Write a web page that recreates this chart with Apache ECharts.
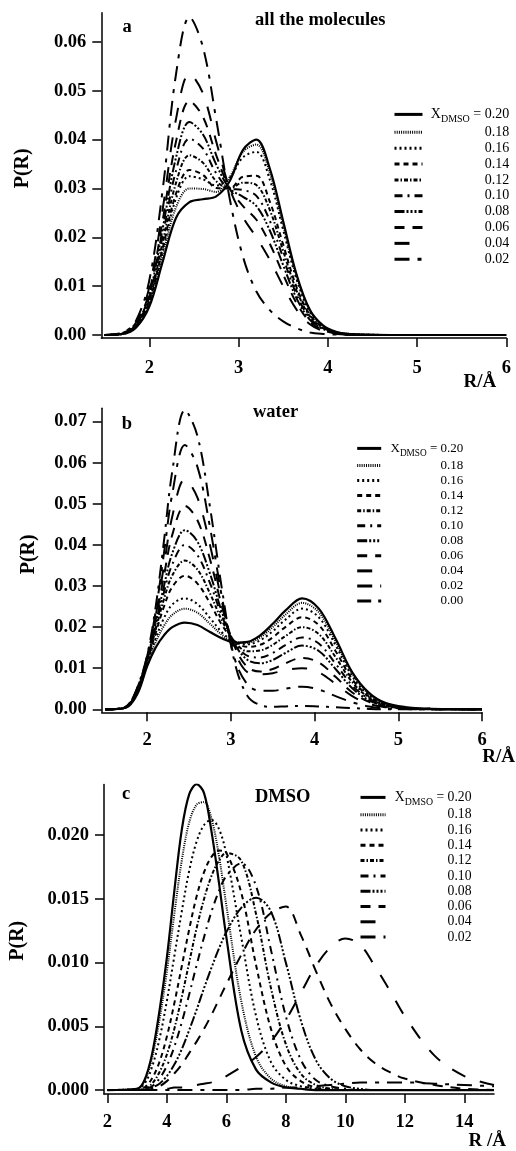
<!DOCTYPE html>
<html><head><meta charset="utf-8">
<script src="https://cdn.jsdelivr.net/npm/echarts@6/dist/echarts.min.js"></script>
<style>html,body{margin:0;padding:0;background:#fff}#c{width:516px;height:1151px}</style>
</head><body><div id="c"></div>
<script>
// ---------- data ----------
const aConc = ['0.20','0.18','0.16','0.14','0.12','0.10','0.08','0.06','0.04','0.02'];
const bConc = ['0.20','0.18','0.16','0.14','0.12','0.10','0.08','0.06','0.04','0.02','0.00'];
const cConc = ['0.20','0.18','0.16','0.14','0.12','0.10','0.08','0.06','0.04','0.02'];

const aXTicks = [2,3,4,5,6];
const aYTicks = [0,0.01,0.02,0.03,0.04,0.05,0.06];
const bXTicks = [2,3,4,5,6];
const bYTicks = [0,0.01,0.02,0.03,0.04,0.05,0.06,0.07];
const cXTicks = [2,4,6,8,10,12,14];
const cYTicks = [0,0.005,0.010,0.015,0.020];

// panel a : all the molecules
const aR = [1.5,1.7,1.85,2.0,2.15,2.3,2.45,2.6,2.75,2.9,3.05,3.2,3.35,3.5,3.65,3.8,3.95,4.1,4.25,4.4,4.7,5.0,6.0];
const a020 = [0,0.0002,0.0015,0.0058,0.0150,0.0240,0.0272,0.0278,0.0284,0.0315,0.0379,0.0400,0.0341,0.0233,0.0124,0.0051,0.0019,0.0006,0.0002,0.0001,0,0,0];
const a018 = [0,0.0002,0.0016,0.0062,0.0162,0.0262,0.0300,0.0299,0.0293,0.0323,0.0375,0.0390,0.0332,0.0225,0.0120,0.0050,0.0018,0.0006,0.0002,0.0001,0,0,0];
const a016 = [0,0.0002,0.0017,0.0066,0.0172,0.0280,0.0325,0.0319,0.0306,0.0322,0.0364,0.0375,0.0318,0.0215,0.0114,0.0047,0.0018,0.0005,0.0002,0.0001,0,0,0];
const a014 = [0,0.0003,0.0018,0.0069,0.0178,0.0290,0.0338,0.0328,0.0301,0.0300,0.0324,0.0326,0.0273,0.0185,0.0098,0.0041,0.0015,0.0005,0.0002,0,0,0,0];
const a012 = [0,0.0003,0.0019,0.0073,0.0190,0.0312,0.0368,0.0353,0.0315,0.0300,0.0312,0.0307,0.0256,0.0172,0.0091,0.0038,0.0014,0.0004,0.0001,0,0,0,0];
const a010 = [0,0.0003,0.0020,0.0078,0.0203,0.0337,0.0402,0.0382,0.0331,0.0300,0.0297,0.0285,0.0234,0.0158,0.0083,0.0034,0.0013,0.0004,0.0001,0,0,0,0];
const a008 = [0,0.0003,0.0021,0.0083,0.0218,0.0364,0.0436,0.0411,0.0349,0.0300,0.0283,0.0264,0.0214,0.0143,0.0075,0.0031,0.0012,0.0003,0.0001,0,0,0,0];
const a006 = [0,0.0004,0.0023,0.0089,0.0235,0.0397,0.0479,0.0447,0.0368,0.0300,0.0264,0.0236,0.0187,0.0124,0.0065,0.0027,0.0010,0.0003,0.0001,0,0,0,0];
const a004 = [0,0.0004,0.0025,0.0098,0.0258,0.0443,0.0535,0.0495,0.0396,0.0300,0.0241,0.0200,0.0154,0.0100,0.0052,0.0022,0.0008,0.0002,0.0001,0,0,0,0];
const a002 = [0,0.0005,0.0029,0.0112,0.0298,0.0535,0.0651,0.0590,0.0441,0.0280,0.0160,0.0089,0.0051,0.0028,0.0014,0.0005,0.0002,0.0001,0,0,0,0,0];

// panel b : water
const bR = [1.5,1.7,1.8,1.9,2.0,2.1,2.2,2.3,2.45,2.6,2.75,2.9,3.05,3.2,3.35,3.5,3.65,3.85,4.05,4.25,4.45,4.65,4.85,5.1,5.4,6.0];
const b020 = [0,0.0002,0.0012,0.0045,0.0105,0.0150,0.0180,0.0200,0.0211,0.0205,0.0188,0.0172,0.0162,0.0164,0.0180,0.0208,0.0240,0.0270,0.0245,0.0172,0.0090,0.0040,0.0015,0.0005,0.0001,0];
const b018 = [0,0.0002,0.0013,0.0048,0.0110,0.0163,0.0203,0.0230,0.0245,0.0235,0.0208,0.0180,0.0163,0.0162,0.0175,0.0200,0.0230,0.0259,0.0236,0.0165,0.0086,0.0037,0.0014,0.0004,0.0001,0];
const b016 = [0,0.0002,0.0014,0.0050,0.0113,0.0172,0.0222,0.0255,0.0270,0.0256,0.0222,0.0186,0.0163,0.0158,0.0168,0.0190,0.0218,0.0245,0.0224,0.0156,0.0080,0.0034,0.0012,0.0003,0.0001,0];
const b014 = [0,0.0002,0.0015,0.0053,0.0118,0.0185,0.0250,0.0298,0.0325,0.0306,0.0258,0.0203,0.0165,0.0152,0.0157,0.0175,0.0200,0.0224,0.0205,0.0142,0.0073,0.0031,0.0011,0.0003,0.0001,0];
const b012 = [0,0.0002,0.0015,0.0054,0.0120,0.0193,0.0268,0.0326,0.0362,0.0340,0.0282,0.0213,0.0163,0.0141,0.0143,0.0157,0.0178,0.0200,0.0183,0.0127,0.0066,0.0028,0.0010,0.0003,0.0001,0];
const b010 = [0,0.0002,0.0016,0.0056,0.0122,0.0200,0.0285,0.0353,0.0400,0.0375,0.0307,0.0223,0.0160,0.0130,0.0126,0.0137,0.0156,0.0175,0.0160,0.0111,0.0058,0.0025,0.0009,0.0003,0.0001,0];
const b008 = [0,0.0002,0.0016,0.0057,0.0124,0.0207,0.0300,0.0380,0.0436,0.0408,0.0330,0.0232,0.0157,0.0120,0.0112,0.0120,0.0137,0.0155,0.0142,0.0098,0.0051,0.0022,0.0008,0.0002,0,0];
const b006 = [0,0.0002,0.0017,0.0059,0.0126,0.0217,0.0325,0.0425,0.0495,0.0460,0.0365,0.0245,0.0150,0.0102,0.0092,0.0098,0.0112,0.0125,0.0114,0.0079,0.0041,0.0018,0.0006,0.0002,0,0];
const b004 = [0,0.0002,0.0017,0.0060,0.0128,0.0226,0.0350,0.0470,0.0560,0.0515,0.0400,0.0255,0.0140,0.0090,0.0085,0.0088,0.0095,0.0100,0.0090,0.0062,0.0032,0.0013,0.0005,0.0001,0,0];
const b002 = [0,0.0002,0.0018,0.0062,0.0130,0.0237,0.0380,0.0525,0.0643,0.0590,0.0443,0.0265,0.0120,0.0060,0.0045,0.0045,0.0050,0.0055,0.0048,0.0032,0.0017,0.0007,0.0002,0.0001,0,0];
const b000 = [0,0.0002,0.0018,0.0063,0.0132,0.0248,0.0410,0.0580,0.0728,0.0665,0.0492,0.0283,0.0110,0.0032,0.0010,0.0006,0.0007,0.0008,0.0007,0.0005,0.0003,0.0001,0,0,0,0];

// panel c : DMSO
const cR = [2,3,3.25,3.5,3.75,4,4.25,4.5,4.75,5,5.25,5.5,5.75,6,6.5,7,7.5,8,8.5,9,9.5,10,10.5,11,11.5,12,13,14,15];
const c020 = [0,0.0001,0.0008,0.0028,0.0062,0.0104,0.0156,0.0204,0.0232,0.0240,0.0233,0.0203,0.0163,0.0120,0.0047,0.0016,0.0006,0.0002,0.0001,0,0,0,0,0,0,0,0,0,0];
const c018 = [0,0.0001,0.0007,0.0025,0.0055,0.0093,0.0138,0.0180,0.0210,0.0224,0.0226,0.0213,0.0184,0.0145,0.0070,0.0026,0.0009,0.0003,0.0001,0,0,0,0,0,0,0,0,0,0];
const c016 = [0,0.0001,0.0005,0.0018,0.0040,0.0070,0.0105,0.0140,0.0172,0.0195,0.0208,0.0212,0.0205,0.0185,0.0120,0.0058,0.0022,0.0008,0.0003,0.0001,0,0,0,0,0,0,0,0,0];
const c014 = [0,0,0.0002,0.0009,0.0022,0.0042,0.0068,0.0097,0.0126,0.0152,0.0171,0.0183,0.0188,0.0186,0.0155,0.0098,0.0048,0.0019,0.0007,0.0002,0.0001,0,0,0,0,0,0,0,0];
const c012 = [0,0,0.0001,0.0005,0.0014,0.0028,0.0048,0.0073,0.0100,0.0127,0.0150,0.0168,0.0180,0.0186,0.0180,0.0138,0.0080,0.0036,0.0013,0.0004,0.0001,0,0,0,0,0,0,0,0];
const c010 = [0,0,0.0001,0.0003,0.0009,0.0019,0.0034,0.0053,0.0075,0.0098,0.0120,0.0140,0.0156,0.0168,0.0178,0.0160,0.0110,0.0058,0.0024,0.0008,0.0003,0.0001,0,0,0,0,0,0,0];
const c008 = [0,0,0,0.0002,0.0005,0.0011,0.0020,0.0032,0.0047,0.0063,0.0080,0.0096,0.0111,0.0124,0.0143,0.0151,0.0140,0.0100,0.0055,0.0024,0.0009,0.0003,0.0001,0,0,0,0,0,0];
const c006 = [0,0,0,0.0001,0.0003,0.0007,0.0013,0.0020,0.0029,0.0038,0.0048,0.0059,0.0071,0.0083,0.0106,0.0126,0.0139,0.0144,0.0122,0.0094,0.0068,0.0048,0.0032,0.0021,0.0014,0.0009,0.0004,0.0001,0];
const c004 = [0,0,0,0,0.0001,0.0001,0.0002,0.0002,0.0003,0.0004,0.0005,0.0006,0.0008,0.0011,0.0018,0.0026,0.0038,0.0055,0.0076,0.0097,0.0112,0.0119,0.0114,0.0097,0.0078,0.0058,0.0027,0.0011,0.0004];
const c002 = [0,0,0,0,0,0,0,0,0,0,0,0,0,0,0,0.0001,0.0001,0.0002,0.0002,0.0003,0.0004,0.0005,0.0006,0.0006,0.0006,0.0006,0.0005,0.0004,0.0003];

const aVals = [a020,a018,a016,a014,a012,a010,a008,a006,a004,a002];
const bVals = [b020,b018,b016,b014,b012,b010,b008,b006,b004,b002,b000];
const cVals = [c020,c018,c016,c014,c012,c010,c008,c006,c004,c002];

// ---------- styles ----------
const DASH = {
  '0.20':'solid','0.18':[1,1.2],'0.16':[2,3],'0.14':[5,4],'0.12':[4,2,1.5,2],
  '0.10':[8,5,2,5],'0.08':[10,2,2,2,2,2,2,2],'0.06':[10,8],'0.04':[15,15],
  '0.02':[15,8,4,8],'0.00':[14,7,3,7]
};
const SERIF = 'Liberation Serif';

function measure(txt, size, weight){
  const cv = document.createElement('canvas').getContext('2d');
  cv.font = (weight||'normal') + ' ' + size + 'px "' + SERIF + '"';
  return cv.measureText(txt).width;
}

function makeSeries(panel, gi, R, conc, vals){
  return conc.map((lab, k) => ({
    name: panel + ' ' + lab, type: 'line', xAxisIndex: gi, yAxisIndex: gi,
    data: R.map((r, i) => [r, vals[k][i]]),
    smooth: 0.35, symbol: 'none', showSymbol: false, silent: true,
    lineStyle: {color: '#000', width: lab === '0.20' ? 2.2 : 2, type: DASH[lab], cap: 'butt'},
    itemStyle: {color: '#000'}
  }));
}

function makeLegend(panel, conc, left, top, iw, gap, fs, subfs, pad){
  const W = measure('X', fs) + measure('DMSO', subfs) + measure(' = 0.20', fs);
  const base = {fontFamily: SERIF, fontSize: fs, lineHeight: 20, color: '#000'};
  return {
    orient: 'vertical', left: left, top: top, padding: 0,
    itemWidth: iw, itemHeight: 20, itemGap: gap,
    selectedMode: false,
    data: conc.map(c => panel + ' ' + c),
    itemStyle: {opacity: 0},
    lineStyle: {width: 3},
    formatter: function(name){
      const v = name.split(' ')[1];
      return v === '0.20' ? '{x|X}{s|DMSO}{x| = 0.20}' : '{r|' + v + '}';
    },
    textStyle: {
      padding: [0,0,0,pad], fontFamily: SERIF, fontSize: fs, color: '#000',
      rich: {
        x: base,
        s: {fontFamily: SERIF, fontSize: subfs, lineHeight: 10, verticalAlign: 'bottom', color: '#000'},
        r: Object.assign({}, base, {width: W, align: 'right'})
      }
    }
  };
}

function xAx(gi, min, max, ticks, labelMargin, name, nameGap, namePadTop, nameSize){
  return {
    gridIndex: gi, type: 'value', min: min, max: max,
    axisLine: {show: true, onZero: false, lineStyle: {color: '#000', width: 1.5}},
    axisTick: {show: true, length: 9, lineStyle: {color: '#000', width: 1.5}, customValues: ticks},
    axisLabel: {customValues: ticks, margin: labelMargin, color: '#000', fontFamily: SERIF, fontWeight: 'bold', fontSize: 18.5,
      formatter: v => String(Math.round(v))},
    splitLine: {show: false},
    name: name, nameLocation: 'end', nameGap: nameGap, nameMoveOverlap: false,
    nameTextStyle: {fontFamily: SERIF, fontWeight: 'bold', fontSize: nameSize, color: '#000',
      align: 'right', verticalAlign: 'top', lineHeight: nameSize, padding: [namePadTop,0,0,0]}
  };
}
function yAx(gi, min, max, ticks, dec, nameGap, namePad){
  return {
    gridIndex: gi, type: 'value', min: min, max: max,
    axisLine: {show: true, onZero: false, lineStyle: {color: '#000', width: 1.5}},
    axisTick: {show: true, length: 9, lineStyle: {color: '#000', width: 1.5}, customValues: ticks},
    axisLabel: {customValues: ticks, margin: 15, color: '#000', fontFamily: SERIF, fontWeight: 'bold', fontSize: 18.5,
      formatter: v => v.toFixed(dec)},
    splitLine: {show: false},
    name: 'P(R)', nameLocation: 'middle', nameGap: nameGap, nameMoveOverlap: false,
    nameTextStyle: {fontFamily: SERIF, fontWeight: 'bold', fontSize: 20, color: '#000', padding: namePad}
  };
}
function ttl(text, left, top){
  return {text: text, left: left, top: top, padding: 0,
    textStyle: {fontFamily: SERIF, fontWeight: 'bold', fontSize: 18.5, lineHeight: 18.5, color: '#000'}};
}

const chart = echarts.init(document.getElementById('c'), null, {renderer: 'canvas'});
chart.setOption({
  animation: false,
  backgroundColor: '#fff',
  title: [
    ttl('a', 122.5, 17.8), ttl('all the molecules', 255, 11.2),
    ttl('b', 121.7, 414.5), ttl('water', 253, 402.8),
    ttl('c', 122, 784.5), ttl('DMSO', 255, 787.8)
  ],
  grid: [
    {left: 101.3, right: 9.7, top: 12.7, bottom: 813, containLabel: false},
    {left: 101.7, right: 33.3, top: 408.3, bottom: 438.7, containLabel: false},
    {left: 102.3, right: 22, top: 784.5, bottom: 52.7, containLabel: false}
  ],
  xAxis: [
    xAx(0, 1.462, 6, aXTicks, 21, 'R/Å', -10, 35, 19),
    xAx(1, 1.456, 6, bXTicks, 18, 'R/Å', 33, 35, 19),
    xAx(2, 1.886, 15, cXTicks, 18.7, 'R /Å', 12, 38, 19)
  ],
  yAxis: [
    yAx(0, -0.000614, 0.066, aYTicks, 2, 68, [0,0,0,14]),
    yAx(1, -0.00073, 0.07325, bYTicks, 2, 63, [0,0,0,12]),
    yAx(2, -0.00031, 0.02398, cYTicks, 3, 76, [0,3,0,0])
  ],
  legend: [
    makeLegend('a', aConc, 393, 106.4, 28, -0.13, 14, 10, 3.3),
    makeLegend('b', bConc, 355.7, 440.4, 24, -0.94, 13, 9.3, 4.3),
    makeLegend('c', cConc, 359, 789.4, 25, -0.7, 13.7, 9.8, 4.3)
  ],
  series: [].concat(
    makeSeries('a', 0, aR, aConc, aVals),
    makeSeries('b', 1, bR, bConc, bVals),
    makeSeries('c', 2, cR, cConc, cVals)
  )
});
</script></body></html>
